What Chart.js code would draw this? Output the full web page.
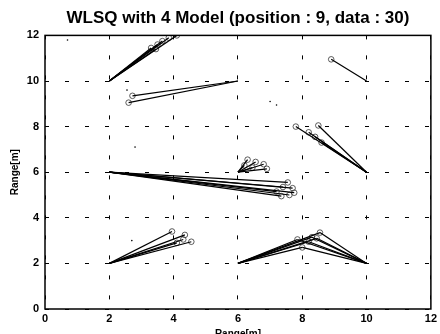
<!DOCTYPE html>
<html>
<head>
<meta charset="utf-8">
<script src="https://cdn.jsdelivr.net/npm/chart.js@4/dist/chart.umd.min.js"></script>
<style>
  html, body { margin: 0; padding: 0; background: #fff; }
  #wrap { width: 440px; height: 334px; }
</style>
</head>
<body>
<div id="wrap"><canvas id="wlsq"></canvas></div>
<script>
// true positions (9 of them) and the estimates linked to each
const ticks = [0, 2, 4, 6, 8, 10, 12];

const pos1 = [2, 10];
const est1 = [[3.3, 11.45], [3.5, 11.6], [3.65, 11.75], [3.85, 11.9], [4.1, 12.0], [3.45, 11.4]];

const pos2 = [6, 10];
const est2 = [[2.72, 9.35], [2.6, 9.05]];

const pos3 = [10, 10];
const est3 = [[8.9, 10.95]];

const pos4 = [2, 6];
const est4 = [[7.55, 5.55], [7.4, 5.35], [7.7, 5.3], [7.2, 5.15], [7.6, 5.0], [7.35, 4.95], [7.75, 5.1]];

const pos5 = [6, 6];
const est5 = [[6.3, 6.55], [6.55, 6.45], [6.8, 6.35], [6.45, 6.2], [6.9, 6.15], [6.2, 6.3]];

const pos6 = [10, 6];
const est6 = [[8.5, 8.05], [7.8, 8.0], [8.2, 7.75], [8.4, 7.55], [8.6, 7.3]];

const pos7 = [2, 2];
const est7 = [[3.95, 3.4], [4.35, 3.25], [4.3, 3.05], [4.55, 2.95], [4.1, 2.9]];

// estimates shared by the bottom-middle pair of positions
const pos8 = [6, 2];
const pos9 = [10, 2];
const est89 = [[8.0, 2.7], [8.2, 2.95], [8.3, 3.15], [8.55, 3.35], [7.85, 3.05], [8.45, 3.1]];

// a few stray samples
const stray = [[0.7, 11.8], [2.55, 9.6], [7.0, 9.1], [7.2, 8.95], [2.8, 7.1], [2.7, 3.0]];

function pt(p) { return { x: p[0], y: p[1] }; }

const datasets = [];

function fan(anchor, ests) {
    // one line per estimate: position -> estimate
    ests.forEach(function (e) {
        datasets.push({
            type: 'line',
            data: [pt(anchor), pt(e)],
            borderColor: '#000',
            borderWidth: 1.2,
            pointRadius: 0,
            fill: false
        });
    });
}

fan(pos1, est1); fan(pos2, est2); fan(pos3, est3);
fan(pos4, est4); fan(pos5, est5); fan(pos6, est6);
fan(pos7, est7); fan(pos8, est89); fan(pos9, est89);

// circle markers at the estimates
const allEst = [].concat(est1, est2, est3, est4, est5, est6, est7, est89);
datasets.push({
    type: 'scatter',
    data: allEst.map(pt),
    pointStyle: 'circle',
    pointRadius: 2.8,
    borderColor: '#333',
    borderWidth: 0.8,
    backgroundColor: 'rgba(0,0,0,0)'
});
datasets.push({
    type: 'scatter',
    data: stray.map(pt),
    pointRadius: 0.8,
    borderWidth: 0,
    backgroundColor: '#000'
});

const boxPlugin = {
    id: 'box',
    afterLayout: function (chart) {
        // centre the title over the plot box, as in the original figure
        if (chart.titleBlock) {
            chart.titleBlock.left = chart.chartArea.left;
            chart.titleBlock.right = chart.chartArea.right;
        }
    },
    afterDraw: function (chart) {
        const a = chart.chartArea;
        const c = chart.ctx;
        c.save();
        c.strokeStyle = '#000';
        c.lineWidth = 1.5;
        c.strokeRect(a.left, a.top, a.right - a.left, a.bottom - a.top);
        c.restore();
    }
};

const fam = 'Liberation Sans, Arial, sans-serif';

const ctx = document.getElementById('wlsq').getContext('2d');
new Chart(ctx, {
    data: { datasets: datasets },
    plugins: [boxPlugin],
    options: {
        responsive: true,
        maintainAspectRatio: false,
        animation: false,
        layout: { padding: { top: 0, right: 6, left: 0, bottom: 0 } },
        plugins: {
            legend: { display: false },
            tooltip: { enabled: false },
            title: {
                display: true,
                text: 'WLSQ with 4 Model (position : 9, data : 30)',
                color: '#000',
                font: { family: fam, weight: 'bold', size: 17 },
                padding: { top: 8, bottom: 7 }
            }
        },
        scales: {
            x: {
                type: 'linear',
                min: 0, max: 12,
                afterBuildTicks: function (s) { s.ticks = ticks.map(function (v) { return { value: v }; }); },
                afterFit: function (s) { s.height = 25; },
                ticks: { color: '#000', padding: 3, font: { family: fam, weight: 'bold', size: 11 } },
                grid: { color: '#000', lineWidth: 1, drawTicks: false },
                border: { display: false, dash: [4, 16] },
                title: {
                    display: true, text: 'Range[m]', color: '#000',
                    font: { family: fam, weight: 'bold', size: 10 },
                    padding: { top: 0, bottom: -6 }
                }
            },
            y: {
                type: 'linear',
                min: 0, max: 12,
                afterBuildTicks: function (s) { s.ticks = ticks.map(function (v) { return { value: v }; }); },
                afterFit: function (s) { s.width = 45; },
                ticks: { color: '#000', padding: 6, font: { family: fam, weight: 'bold', size: 11 } },
                grid: { color: '#000', lineWidth: 1, drawTicks: false },
                border: { display: false, dash: [4, 16] },
                title: {
                    display: true, text: 'Range[m]', color: '#000',
                    font: { family: fam, weight: 'bold', size: 10 },
                    padding: { top: 9, bottom: 0 }
                }
            }
        }
    }
});
</script>
</body>
</html>
